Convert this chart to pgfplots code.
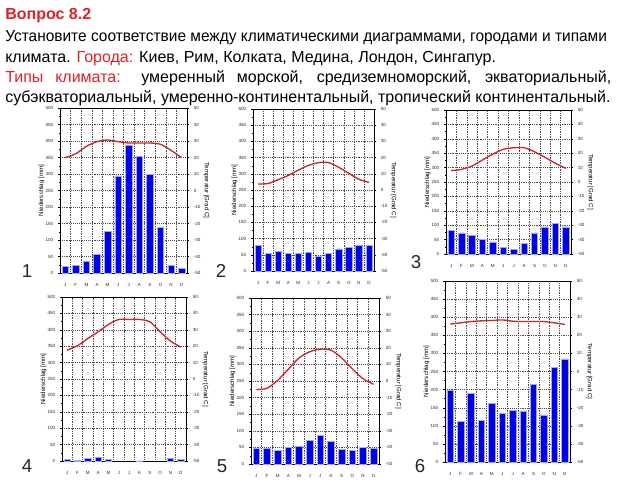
\documentclass[border=0pt]{standalone}
\usepackage{fontspec}
\setmainfont{Liberation Sans}
\usepackage{graphicx}
\usepackage{pgfplots}
\pgfplotsset{compat=1.18}
\definecolor{qred}{HTML}{D9232D}
\definecolor{barblue}{HTML}{0000E6}
\definecolor{baredge}{HTML}{A0A8FF}
\definecolor{tline}{HTML}{C8262A}

\pgfplotsset{
  climbase/.style={
    scale only axis, anchor=north west,
    xmin=0.5, xmax=12.5,
    tick label style={font=\fontsize{3.4}{4}\selectfont, black!85},
    /pgf/number format/assume math mode=true,
    label style={font=\fontsize{4.6}{5}\selectfont},
    tick align=outside, major tick length=1.6pt, minor tick length=0.9pt,
    tick style={black, line width=0.3pt},
    axis line style={line width=0.4pt},
  },
  climL/.style={
    climbase,
    ymin=0, ymax=500, ytick={0,50,...,500}, minor y tick num=1,
    xtick={1,...,12}, xticklabels={J,F,M,A,M,J,J,A,S,O,N,D},
    minor xtick={1.5,2.5,...,11.5},
    xminorgrids, ymajorgrids,
    grid style={densely dotted, black!70, line width=0.3pt},
    minor grid style={densely dotted, black!70, line width=0.3pt},
    xtick pos=bottom, ytick pos=left,
    x tick style={draw=none},
    xticklabel style={yshift=-2.5pt},
    ylabel={Niederschlag [mm]}, ylabel style={yshift=-6pt},
  },
  climR/.style={
    climbase,
    ymin=-50, ymax=50, ytick={-50,-40,...,50}, minor y tick num=1,
    axis y line*=right, axis x line=none,
    ylabel={Temperatur [Grad C]}, ylabel style={rotate=180, yshift=-4.5pt},
  },
}

% #1 position, #2 width, #3 height, #4 precipitation, #5 temperature
\newcommand\climate[5]{%
  \begin{axis}[climL, at={(#1)}, width=#2, height=#3]
    \addplot[ybar, bar width=0.62, fill=barblue, draw=baredge, line width=0.5pt] coordinates {#4};
  \end{axis}
  \begin{axis}[climR, at={(#1)}, width=#2, height=#3]
    \addplot[tline, line width=1pt, smooth, tension=0.45] coordinates {#5};
  \end{axis}}

\begin{document}
\begin{tikzpicture}
\path[use as bounding box] (0,0) rectangle (480pt,-360pt);

\begin{scope}[every node/.style={anchor=base west, inner sep=0pt, font=\fontsize{12}{14}\selectfont}]
  \node[qred, font=\fontsize{12}{14}\selectfont\bfseries] at (3.75pt,-14.6pt) {Вопрос 8.2};
  \node at (3.75pt,-31.1pt) {\scalebox{0.966}[1]{Установите соответствие между климатическими диаграммами, городами и типами}};
  \node at (3.75pt,-46.5pt) {климата. {\color{qred}Города:} Киев, Рим, Колката, Медина, Лондон, Сингапур.};
  \node at (3.75pt,-61.9pt) {\makebox[454.5pt][s]{{\color{qred}Типы климата:} умеренный морской, средиземноморский, экваториальный,}};
  \node at (3.75pt,-77.2pt) {субэкваториальный, умеренно-континентальный, тропический континентальный.};
\end{scope}

% 1 Kolkata
\climate{45pt,-81pt}{95.25pt}{123.75pt}
  {(1,20) (2,24) (3,35) (4,56) (5,125) (6,294) (7,388) (8,353) (9,298) (10,137) (11,24) (12,15)}
  {(1,19.9) (2,22.3) (3,26.8) (4,29.6) (5,30.6) (6,29.6) (7,28.8) (8,28.8) (9,28.8) (10,28) (11,24.3) (12,19.9)}
% 2 London
\climate{189.75pt,-81.75pt}{90.75pt}{121.5pt}
  {(1,79) (2,55) (3,60) (4,55) (5,55) (6,58) (7,45) (8,55) (9,68) (10,74) (11,78) (12,80)}
  {(1,3.7) (2,4) (3,6.4) (4,9) (5,12.3) (6,15.2) (7,16.9) (8,16.9) (9,14) (10,10.3) (11,6.6) (12,4.7)}
% 3 Rome
\climate{334.5pt,-82.5pt}{93.75pt}{108pt}
  {(1,81) (2,73) (3,64) (4,50) (5,42) (6,22) (7,17) (8,36) (9,73) (10,94) (11,105) (12,94)}
  {(1,7.9) (2,8.8) (3,11.1) (4,15.3) (5,19.4) (6,22.7) (7,23.8) (8,23.8) (9,21) (10,17.1) (11,13) (12,9.5)}
% 4 Medina
\climate{46.5pt,-222.75pt}{93pt}{123pt}
  {(1,5) (2,1) (3,7) (4,12) (5,4) (8,0.5) (11,8) (12,4)}
  {(1,17.6) (2,20.3) (3,24.7) (4,28.8) (5,33.3) (6,36.3) (7,36.3) (8,36.3) (9,34.9) (10,28.8) (11,23.1) (12,19.5)}
% 5 Kiev
\climate{188.25pt,-223.5pt}{96pt}{124.5pt}
  {(1,48) (2,48) (3,40) (4,50) (5,53) (6,70) (7,87) (8,67) (9,45) (10,40) (11,51) (12,48)}
  {(1,-5.1) (2,-4.4) (3,0.4) (4,7.1) (5,13.9) (6,17.6) (7,19.2) (8,18.6) (9,13.9) (10,7.3) (11,1.4) (12,-2)}
% 6 Singapore
\climate{333.75pt,-210.75pt}{93.75pt}{135.75pt}
  {(1,199) (2,112) (3,189) (4,114) (5,162) (6,134) (7,143) (8,141) (9,215) (10,130) (11,262) (12,285)}
  {(1,26.2) (2,26.9) (3,27.6) (4,28) (5,28.2) (6,28.5) (7,27.8) (8,27.6) (9,27.6) (10,27.6) (11,26.9) (12,26)}

\begin{scope}[every node/.style={font=\fontsize{14}{16}\selectfont, black!85, inner sep=0pt}]
  \node at (20.25pt,-203.25pt) {1};
  \node at (165.75pt,-203.25pt) {2};
  \node at (312pt,-196.5pt) {3};
  \node at (20.25pt,-349.5pt) {4};
  \node at (166.5pt,-349.5pt) {5};
  \node at (315pt,-349.5pt) {6};
\end{scope}
\end{tikzpicture}
\end{document}
